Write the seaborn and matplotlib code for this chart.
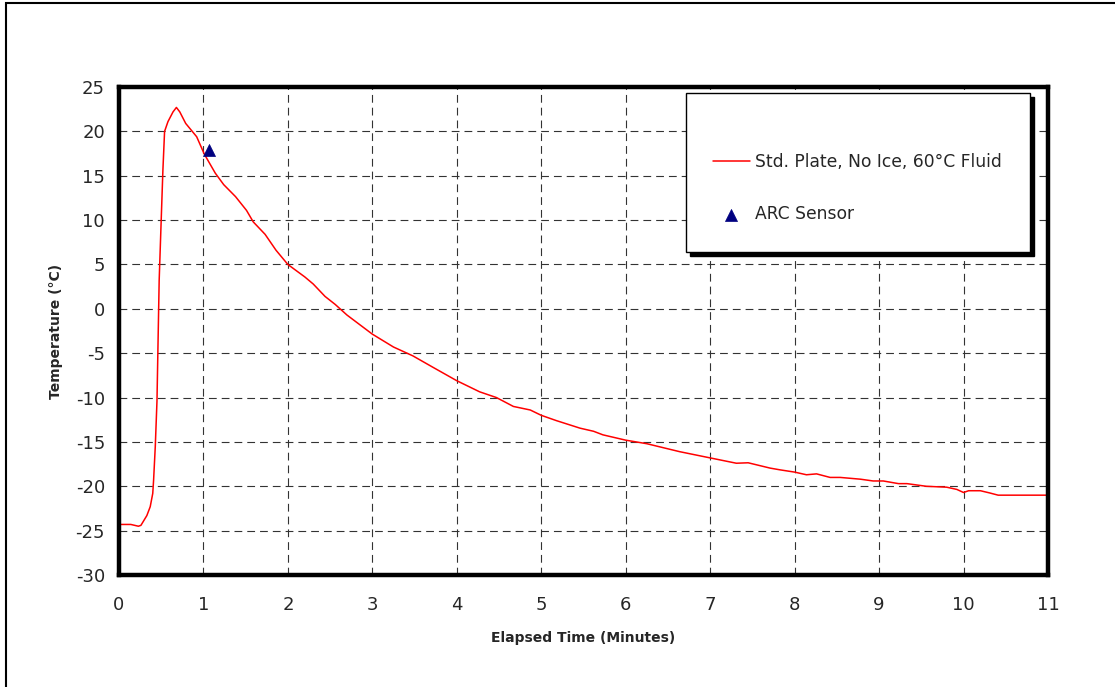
"""Plate temperature after fluid application, with the ARC sensor reading."""
import matplotlib
matplotlib.use("Agg")
import matplotlib.pyplot as plt
from matplotlib.patches import Rectangle
import seaborn as sns
import pandas as pd

# elapsed time (minutes) and plate temperature (deg C)
time_min = [0.0, 0.14, 0.23, 0.26, 0.33, 0.37, 0.40, 0.41, 0.43, 0.45, 0.476,
            0.50, 0.52, 0.54, 0.58, 0.64, 0.68, 0.72, 0.79, 0.92, 1.01, 1.14,
            1.24, 1.38, 1.51, 1.59, 1.73, 1.86, 2.0, 2.2, 2.3, 2.44, 2.56,
            2.70, 3.0, 3.25, 3.48, 3.72, 4.0, 4.27, 4.47, 4.67, 4.87, 5.0,
            5.18, 5.46, 5.62, 5.73, 6.0, 6.25, 6.64, 7.0, 7.31, 7.45, 7.71,
            7.83, 8.0, 8.14, 8.26, 8.42, 8.54, 8.78, 8.93, 9.05, 9.23, 9.33,
            9.56, 9.80, 9.92, 10.0, 10.06, 10.2, 10.31, 10.41, 10.58, 11.04]
temp_c = [-24.3, -24.3, -24.5, -24.4, -23.3, -22.3, -20.8, -19.3, -15.5,
          -10.4, 3.2, 10.0, 15.6, 20.0, 21.1, 22.2, 22.7, 22.2, 20.9, 19.4,
          17.45, 15.3, 14.0, 12.65, 11.1, 9.8, 8.4, 6.6, 5.0, 3.6, 2.8, 1.4,
          0.5, -0.7, -2.85, -4.3, -5.3, -6.6, -8.1, -9.35, -10.0, -11.0,
          -11.4, -12.0, -12.6, -13.45, -13.8, -14.2, -14.8, -15.2, -16.1,
          -16.8, -17.4, -17.35, -17.95, -18.15, -18.4, -18.7, -18.6, -19.0,
          -19.0, -19.2, -19.4, -19.4, -19.7, -19.7, -20.0, -20.1, -20.35,
          -20.7, -20.5, -20.5, -20.75, -21.0, -21.0, -21.0]

# single ARC sensor reading
arc_time = [1.07]
arc_temp = [17.9]

plate_label = "Std. Plate, No Ice, 60°C Fluid"
arc_label = "ARC Sensor"

curve = pd.DataFrame({"time": time_min, "temp": temp_c})
arc = pd.DataFrame({"time": arc_time, "temp": arc_temp})

sns.set_style("white")
plt.rcParams["font.family"] = ["DejaVu Sans"]
plt.rcParams["axes.unicode_minus"] = False

fig = plt.figure(figsize=(11.15, 6.87), dpi=100)
ax = fig.add_axes([0.1067, 0.163, 0.8332, 0.7103])

sns.lineplot(data=curve, x="time", y="temp", ax=ax, color="#ff0000",
             linewidth=1.1, estimator=None, sort=False, label=plate_label)
sns.scatterplot(data=arc, x="time", y="temp", ax=ax, marker="^",
                color="#000080", s=75, edgecolor="#000080", linewidth=0.5,
                label=arc_label, zorder=5)

ax.set_xlim(0, 11)
ax.set_ylim(-30, 25)
ax.set_xticks(range(0, 12))
ax.set_yticks(range(-30, 30, 5))
ax.grid(True, color="#333333", linewidth=0.8, linestyle=(0, (7, 4.5)))

for side in ax.spines.values():
    side.set_visible(True)
    side.set_color("black")
    side.set_linewidth(3.2)

ax.tick_params(axis="both", direction="out", length=5, width=1,
               color="#444444", labelsize=13)
ax.tick_params(axis="x", pad=10)
ax.tick_params(axis="y", pad=5)
ax.set_xlabel("Elapsed Time (Minutes)", fontsize=10, fontweight="bold",
              labelpad=12)
ax.set_ylabel("Temperature (°C)", fontsize=10, fontweight="bold",
              labelpad=9)

# legend box with a hard black drop shadow, entries placed inside it
box_x0, box_y0, box_w, box_h = 0.6103, 0.6619, 0.3703, 0.3258
ax.add_patch(Rectangle((box_x0 + 0.004, box_y0 - 0.0075), box_w, box_h,
                       transform=ax.transAxes, facecolor="black",
                       edgecolor="black", zorder=6))
ax.add_patch(Rectangle((box_x0, box_y0), box_w, box_h,
                       transform=ax.transAxes, facecolor="white",
                       edgecolor="black", linewidth=1.0, zorder=7))
leg = ax.legend(loc="upper left", bbox_to_anchor=(0.639, 0.865),
                fontsize=12.3, frameon=False, borderpad=0,
                labelspacing=2.0, handlelength=2.2, handletextpad=0.3,
                borderaxespad=0)
leg.set_zorder(8)

# thin frame around the whole chart area
fig.patches.append(Rectangle((6 / 1115, -0.05), 1.2, 1.05 - 2.5 / 687,
                             transform=fig.transFigure, fill=False,
                             edgecolor="black", linewidth=1.5))

fig.savefig("out.png", dpi=100)
